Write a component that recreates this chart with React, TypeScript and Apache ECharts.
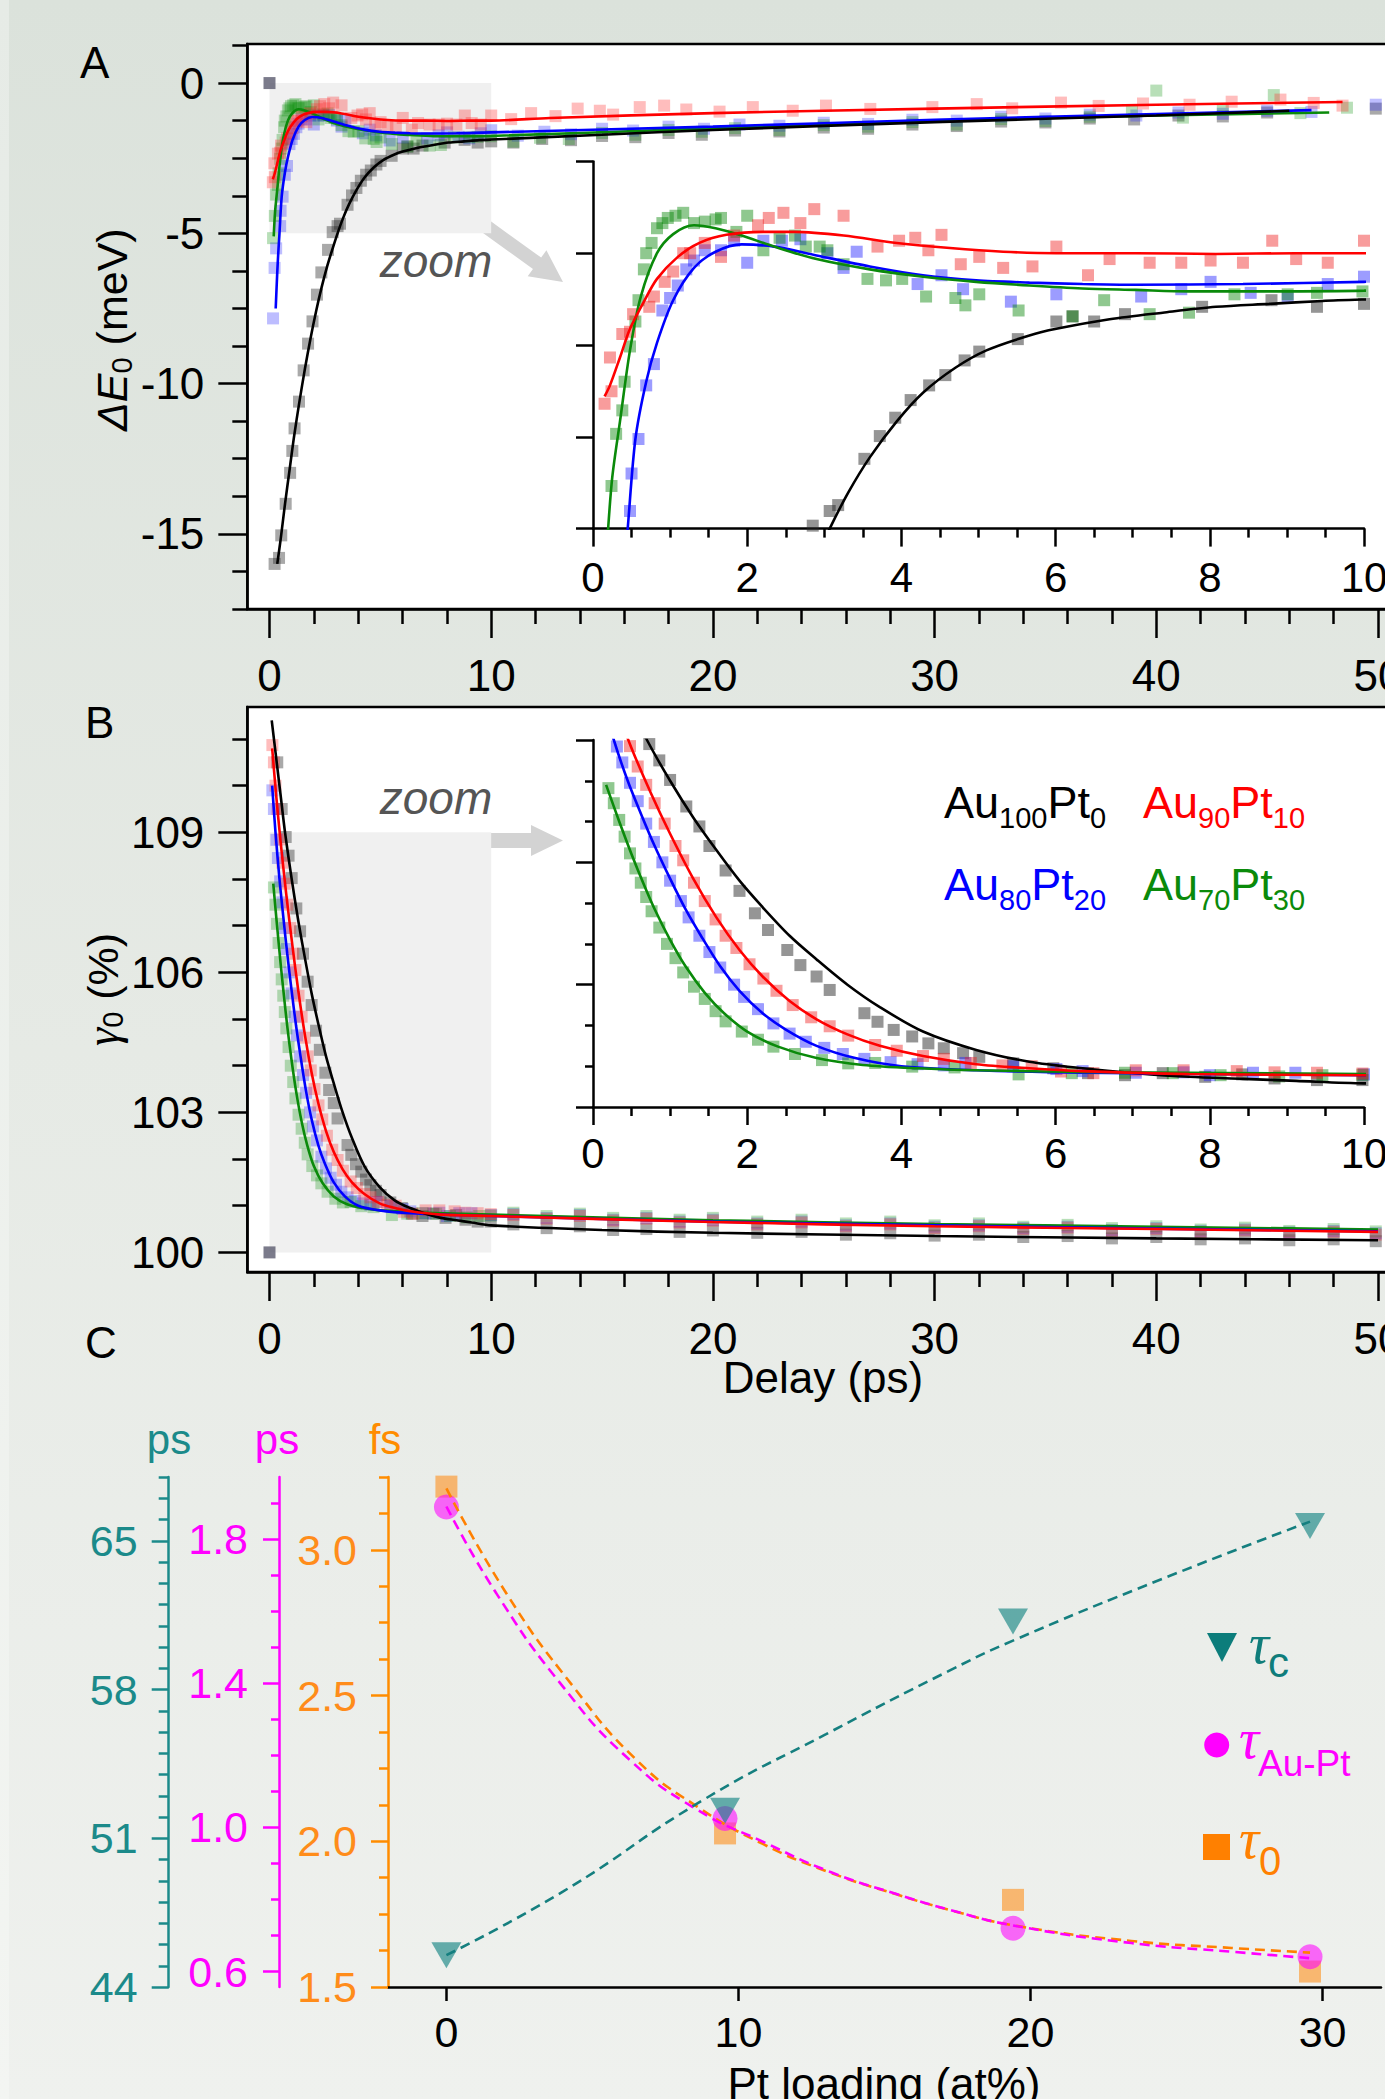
import React, { useEffect, useRef } from 'react';
import * as echarts from 'echarts';

const SANS = 'Liberation Sans';
const SERIF = 'Liberation Serif';

// ---------------- Panel A : ΔE0 (meV) vs delay (ps) ----------------
const A_T0: number[][] = [[0, 0]];
const A_BLACK: number[][] = [[0.23,-16.0],[0.43,-15.8],[0.53,-15.05],[0.73,-14.0],[0.93,-12.97],[1.03,-12.24],[1.13,-11.49],[1.33,-10.6],[1.54,-9.56],[1.74,-8.67],[1.94,-7.93],[2.14,-7.04],[2.34,-6.3],[2.64,-5.55],[2.85,-4.96],[3.07,-4.76],[3.18,-4.68],[3.52,-4.05],[3.72,-3.74],[3.92,-3.49],[4.12,-3.25],[4.36,-3.05],[4.57,-2.91],[4.82,-2.71],[5.01,-2.59],[5.51,-2.42],[6.01,-2.18],[6.22,-2.11],[6.5,-2.18],[6.9,-2.08],[7.9,-1.98],[8.8,-1.89],[9.39,-1.98],[10.0,-1.94],[11.0,-1.98],[12.3,-1.86],[13.6,-1.9],[15.0,-1.76],[16.5,-1.8],[18.0,-1.66],[19.5,-1.72],[21.0,-1.58],[23.0,-1.61],[25.0,-1.48],[27.0,-1.52],[29.0,-1.38],[31.0,-1.43],[33.0,-1.28],[35.0,-1.31],[37.0,-1.18],[39.0,-1.21],[41.0,-1.08],[43.0,-1.11],[45.0,-0.98],[49.9,-0.85]];
const A_BLACK_FIT: number[][] = [[0.35,-16.0],[0.5,-15.2],[0.7,-14.0],[0.9,-12.9],[1.1,-11.8],[1.35,-10.6],[1.6,-9.5],[1.85,-8.5],[2.1,-7.6],[2.35,-6.8],[2.6,-6.1],[2.85,-5.5],[3.07,-5.0],[3.31,-4.51],[3.59,-4.03],[3.94,-3.54],[4.28,-3.15],[4.7,-2.81],[5.11,-2.57],[5.66,-2.37],[6.01,-2.28],[6.7,-2.15],[7.39,-2.06],[8.08,-1.98],[8.77,-1.94],[9.46,-1.9],[10,-1.88],[15,-1.72],[20,-1.56],[30,-1.3],[40,-1.08],[46,-0.92]];
const A_RED: number[][] = [[0.15,-3.3],[0.22,-2.67],[0.24,-3.13],[0.38,-2.35],[0.48,-2.32],[0.52,-2.08],[0.73,-1.98],[0.79,-1.84],[0.93,-1.64],[1.04,-1.5],[1.17,-1.25],[1.26,-1.25],[1.45,-1.11],[1.66,-1.3],[1.83,-1.01],[2.14,-0.87],[2.28,-0.77],[2.47,-0.7],[2.69,-0.84],[2.87,-0.65],[3.25,-0.74],[3.69,-1.16],[3.97,-1.08],[4.18,-1.04],[4.35,-1.21],[4.52,-1.0],[4.77,-1.4],[5.01,-1.3],[5.32,-1.45],[5.7,-1.43],[6.01,-1.16],[6.42,-1.55],[6.7,-1.33],[7.22,-1.38],[7.63,-1.38],[8.01,-1.35],[8.43,-1.38],[8.81,-1.08],[9.12,-1.33],[9.53,-1.38],[10.0,-1.08],[10.9,-1.2],[11.8,-1.0],[12.9,-1.1],[13.9,-0.85],[14.9,-0.92],[15.5,-1.05],[16.7,-0.8],[17.8,-0.75],[18.8,-0.88],[20.3,-0.95],[21.8,-0.8],[23.6,-0.92],[25.1,-0.75],[27.1,-0.86],[29.9,-0.8],[31.9,-0.7],[33.5,-0.84],[35.7,-0.65],[37.4,-0.76],[39.4,-0.68],[41.5,-0.72],[43.4,-0.62],[45.6,-0.55],[47.1,-0.66],[48.4,-0.75]];
const A_RED_FIT: number[][] = [[0.15,-3.2],[0.22,-3.05],[0.35,-2.67],[0.48,-2.28],[0.66,-1.91],[0.83,-1.6],[1.1,-1.3],[1.38,-1.11],[1.73,-1.0],[2.21,-0.96],[2.62,-0.96],[3.25,-1.01],[3.94,-1.11],[4.63,-1.18],[5.32,-1.23],[6.01,-1.25],[7.04,-1.25],[8.08,-1.26],[9.12,-1.25],[10,-1.25],[12.65,-1.16],[20,-1.0],[30,-0.85],[40,-0.72],[48.4,-0.63]];
const A_BLUE: number[][] = [[0.16,-7.83],[0.23,-6.15],[0.3,-5.5],[0.48,-4.76],[0.5,-4.25],[0.59,-3.78],[0.69,-3.05],[0.79,-2.76],[0.9,-2.03],[1.0,-1.86],[1.1,-1.69],[1.21,-1.47],[1.31,-1.35],[1.45,-1.21],[1.66,-1.21],[1.83,-1.08],[2.0,-1.38],[2.21,-1.08],[2.45,-1.08],[2.69,-1.06],[3.04,-1.25],[3.25,-1.45],[3.42,-1.23],[4.21,-1.67],[4.52,-1.55],[4.8,-1.74],[5.42,-1.91],[6.01,-1.81],[7.11,-1.84],[7.63,-1.74],[8.01,-1.64],[8.53,-1.79],[9.01,-1.84],[9.53,-1.67],[10.0,-1.57],[11.2,-1.75],[12.4,-1.62],[13.6,-1.7],[15.0,-1.52],[16.4,-1.58],[18.0,-1.45],[19.6,-1.52],[21.2,-1.38],[23.0,-1.42],[25.0,-1.32],[27.0,-1.36],[29.0,-1.22],[31.0,-1.25],[33.0,-1.12],[35.0,-1.18],[37.0,-1.05],[39.1,-1.08],[41.0,-0.98],[43.0,-1.02],[45.0,-0.92],[47.0,-0.96],[49.9,-0.72]];
const A_BLUE_FIT: number[][] = [[0.28,-7.5],[0.35,-6.3],[0.4,-5.6],[0.45,-5.0],[0.55,-3.78],[0.69,-3.0],[0.83,-2.47],[1.04,-1.89],[1.31,-1.45],[1.59,-1.23],[1.93,-1.13],[2.35,-1.16],[2.9,-1.28],[3.59,-1.43],[4.28,-1.55],[4.97,-1.62],[5.66,-1.65],[6.35,-1.67],[7.04,-1.68],[8.43,-1.67],[10,-1.64],[20,-1.45],[30,-1.22],[40,-1.03],[47,-0.9]];
const A_GREEN: number[][] = [[0.16,-5.16],[0.24,-4.42],[0.3,-3.71],[0.38,-3.39],[0.41,-3.0],[0.48,-2.52],[0.55,-2.18],[0.59,-1.89],[0.66,-1.47],[0.69,-1.25],[0.76,-1.11],[0.83,-0.91],[0.9,-0.84],[0.97,-0.77],[1.07,-0.74],[1.17,-0.7],[1.31,-0.84],[1.45,-0.82],[1.59,-0.79],[1.66,-0.77],[1.86,-0.96],[2.0,-0.74],[2.21,-1.21],[2.42,-1.04],[2.62,-1.01],[2.76,-1.16],[2.94,-1.16],[3.04,-1.21],[3.25,-1.4],[3.56,-1.6],[3.8,-1.62],[4.01,-1.6],[4.32,-1.84],[4.7,-1.86],[4.83,-1.96],[5.01,-1.81],[5.52,-2.03],[6.22,-2.11],[6.63,-1.89],[7.22,-2.08],[7.73,-2.06],[8.32,-1.81],[9.01,-1.81],[9.39,-1.79],[9.98,-1.77],[11.0,-1.95],[12.2,-1.82],[13.5,-1.86],[15.0,-1.66],[16.5,-1.72],[18.0,-1.56],[19.5,-1.62],[21.0,-1.5],[23.0,-1.56],[25.0,-1.4],[27.0,-1.45],[29.0,-1.3],[31.0,-1.38],[33.0,-1.2],[35.0,-1.26],[37.0,-1.12],[38.9,-0.95],[40.0,-0.25],[41.2,-1.15],[43.0,-0.86],[45.3,-0.4],[46.5,-1.0],[48.6,-0.82]];
const A_GREEN_FIT: number[][] = [[0.19,-5.1],[0.25,-4.3],[0.35,-3.54],[0.48,-2.57],[0.62,-1.84],[0.83,-1.25],[1.04,-0.99],[1.31,-0.87],[1.59,-0.91],[1.93,-1.01],[2.35,-1.16],[2.9,-1.33],[3.59,-1.47],[4.28,-1.57],[4.97,-1.64],[5.66,-1.69],[6.35,-1.73],[7.04,-1.75],[7.73,-1.77],[8.43,-1.77],[10,-1.76],[20,-1.5],[30,-1.26],[40,-1.08],[47.8,-0.98]];

// ---------------- Panel B : γ0 (%) vs delay (ps) ----------------
const B_T0: number[][] = [[0, 100]];
const B_BLACK: number[][] = [[0.35,110.5],[0.55,109.5],[0.73,108.9],[0.86,108.5],[1.0,108.02],[1.21,107.37],[1.38,106.88],[1.51,106.4],[1.72,105.8],[1.9,105.3],[2.1,104.75],[2.27,104.34],[2.52,103.85],[2.69,103.48],[2.9,103.2],[3.07,102.87],[3.52,102.3],[3.69,102.09],[3.9,101.89],[4.14,101.73],[4.35,101.56],[4.55,101.44],[4.8,101.32],[5.01,101.23],[5.45,101.07],[5.97,100.95],[6.42,100.83],[6.9,100.78],[7.39,100.83],[7.94,100.74],[8.42,100.8],[8.84,100.7],[9.39,100.66],[9.98,100.66],[11,100.6],[12.5,100.52],[14,100.56],[15.5,100.48],[17,100.5],[18.5,100.44],[20,100.47],[22,100.42],[24,100.44],[26,100.38],[28,100.41],[30,100.36],[32,100.38],[34,100.33],[36,100.35],[38,100.3],[40,100.33],[42,100.28],[44,100.3],[46,100.26],[48,100.28],[49.9,100.24]];
const B_BLACK_FIT: number[][] = [[0.1,111.4],[0.3,110.6],[0.5,109.8],[0.7,109.0],[1.0,108.0],[1.3,107.1],[1.6,106.3],[1.9,105.55],[2.2,104.9],[2.55,104.2],[2.9,103.62],[3.3,103.0],[3.72,102.45],[4.28,101.85],[4.97,101.4],[5.66,101.11],[6.35,100.95],[7.04,100.83],[7.73,100.74],[8.43,100.69],[9.12,100.64],[10,100.58],[15,100.48],[20,100.42],[30,100.35],[40,100.3],[50,100.26]];
const B_RED: number[][] = [[0.13,110.87],[0.2,110.5],[0.27,110.0],[0.36,109.5],[0.48,108.85],[0.58,108.35],[0.69,107.9],[0.8,107.45],[0.93,106.95],[1.07,106.4],[1.17,106.05],[1.31,105.5],[1.45,105.05],[1.59,104.6],[1.72,104.2],[1.86,103.9],[2.03,103.5],[2.21,103.15],[2.38,102.85],[2.59,102.5],[2.83,102.2],[3.07,101.98],[3.31,101.75],[3.66,101.52],[3.94,101.38],[4.28,101.25],[4.55,101.18],[4.9,101.08],[5.31,101.02],[5.69,101.0],[6.07,100.87],[6.49,100.83],[7.04,100.9],[7.66,100.9],[8.35,100.88],[8.84,100.85],[9.39,100.84],[9.98,100.82],[11,100.8],[12.5,100.72],[14,100.78],[15.5,100.68],[17,100.72],[18.5,100.64],[20,100.68],[22,100.6],[24,100.64],[26,100.56],[28,100.6],[30,100.52],[32,100.56],[34,100.5],[36,100.53],[38,100.46],[40,100.5],[42,100.43],[44,100.47],[46,100.4],[48,100.44],[49.9,100.38]];
const B_RED_FIT: number[][] = [[0.12,110.8],[0.3,109.8],[0.5,108.8],[0.75,107.7],[1.0,106.7],[1.3,105.6],[1.6,104.65],[1.9,103.85],[2.2,103.2],[2.55,102.6],[2.9,102.15],[3.3,101.78],[3.72,101.5],[4.28,101.25],[4.97,101.05],[5.66,100.95],[6.35,100.88],[7.73,100.81],[10,100.78],[20,100.65],[30,100.56],[40,100.5],[50,100.44]];
const B_BLUE: number[][] = [[0.13,109.9],[0.2,109.5],[0.31,108.84],[0.38,108.45],[0.48,107.95],[0.58,107.5],[0.69,106.95],[0.79,106.5],[0.9,106.0],[1.0,105.55],[1.14,105.05],[1.24,104.65],[1.38,104.2],[1.51,103.8],[1.65,103.42],[1.83,103.0],[1.96,102.7],[2.14,102.4],[2.34,102.05],[2.55,101.8],[2.76,101.6],[3.0,101.45],[3.24,101.3],[3.52,101.18],[3.86,101.1],[4.21,101.05],[4.55,101.02],[4.83,101.08],[5.45,101.0],[6.01,100.93],[6.35,100.88],[7.04,100.84],[7.66,100.85],[8.0,100.78],[8.56,100.84],[9.11,100.84],[10,100.8],[11,100.82],[12.5,100.74],[14,100.8],[15.5,100.7],[17,100.74],[18.5,100.66],[20,100.7],[22,100.62],[24,100.66],[26,100.58],[28,100.62],[30,100.55],[32,100.58],[34,100.52],[36,100.55],[38,100.48],[40,100.52],[42,100.46],[44,100.49],[46,100.43],[48,100.46],[49.9,100.41]];
const B_BLUE_FIT: number[][] = [[0.12,110.0],[0.27,109.0],[0.45,108.0],[0.62,107.2],[0.8,106.4],[1.0,105.6],[1.2,104.85],[1.4,104.2],[1.65,103.45],[1.9,102.85],[2.2,102.3],[2.5,101.9],[2.9,101.5],[3.4,101.2],[4.0,101.0],[4.97,100.9],[6.35,100.84],[10,100.78],[20,100.66],[30,100.58],[40,100.51],[50,100.45]];
const B_GREEN: number[][] = [[0.2,107.82],[0.27,107.45],[0.34,107.04],[0.41,106.63],[0.48,106.22],[0.55,105.85],[0.62,105.5],[0.69,105.15],[0.76,104.8],[0.86,104.4],[0.96,104.0],[1.07,103.65],[1.17,103.3],[1.31,102.95],[1.45,102.65],[1.59,102.35],[1.72,102.1],[1.93,101.85],[2.14,101.65],[2.34,101.48],[2.62,101.3],[2.97,101.15],[3.31,101.07],[3.66,101.08],[4.14,100.99],[4.69,100.97],[5.52,100.8],[6.21,100.83],[6.9,100.84],[7.52,100.83],[8.14,100.78],[8.9,100.75],[9.46,100.78],[9.98,100.79],[11,100.85],[12.5,100.78],[14,100.83],[15.5,100.74],[17,100.78],[18.5,100.7],[20,100.74],[22,100.66],[24,100.7],[26,100.62],[28,100.66],[30,100.58],[32,100.62],[34,100.55],[36,100.59],[38,100.52],[40,100.56],[42,100.49],[44,100.53],[46,100.46],[48,100.5],[49.9,100.45]];
const B_GREEN_FIT: number[][] = [[0.17,107.9],[0.34,107.0],[0.5,106.2],[0.65,105.5],[0.8,104.85],[1.0,104.1],[1.2,103.45],[1.45,102.8],[1.7,102.3],[2.0,101.85],[2.4,101.48],[2.9,101.2],[3.5,101.03],[4.2,100.95],[5.0,100.9],[6.35,100.86],[10,100.81],[20,100.69],[30,100.61],[40,100.55],[50,100.49]];

// ---------------- Panel C : time constants vs Pt loading ----------------
const C_X: number[] = [0, 9.54, 19.4, 29.57];
const C_TAU_C: number[] = [45.5, 52.3, 61.2, 65.7];          // ps (teal axis)
const C_TAU_AUPT: number[] = [1.89, 1.025, 0.72, 0.641];     // ps (magenta axis)
const C_TAU_0: number[] = [3.217, 2.027, 1.799, 1.553];      // fs (orange axis)
const C_TAU_C_FIT: number[][] = [[0,45.5],[4.0,48.5],[8.79,52.8],[13.0,55.9],[17.24,58.9],[19.4,60.3],[24.5,63.2],[29.57,65.9]];
const C_TAU_AUPT_FIT: number[][] = [[0,1.891],[1.71,1.65],[3.99,1.391],[6.27,1.188],[8.57,1.05],[10.85,0.96],[13.13,0.877],[15.41,0.815],[17.24,0.771],[19.4,0.728],[23.45,0.679],[26.88,0.655],[29.57,0.637]];
const C_TAU_0_FIT: number[][] = [[0,3.211],[2.05,2.851],[4.34,2.531],[6.51,2.279],[8.57,2.12],[10.85,1.99],[13.13,1.893],[15.41,1.818],[17.24,1.764],[19.4,1.712],[23.45,1.658],[26.88,1.634],[29.57,1.618]];

// tick positions
const A_X_MAJOR = [0, 10, 20, 30, 40, 50];
const A_X_MINOR = [2, 4, 6, 8, 12, 14, 16, 18, 22, 24, 26, 28, 32, 34, 36, 38, 42, 44, 46, 48];
const A_Y_MAJOR = [0, -5, -10, -15];
const A_Y_MINOR = [1.25, -1.25, -2.5, -3.75, -6.25, -7.5, -8.75, -11.25, -12.5, -13.75, -16.25, -17.5];
const INSET_X_MAJOR = [0, 2, 4, 6, 8, 10];
const INSET_X_MINOR = [0.5, 1, 1.5, 2.5, 3, 3.5, 4.5, 5, 5.5, 6.5, 7, 7.5, 8.5, 9, 9.5];
const A_INSET_Y = [-5, -3.75, -2.5, -1.25, 0];
const B_Y_MAJOR = [100, 103, 106, 109];
const B_Y_MINOR = [101, 102, 104, 105, 107, 108, 110, 111];
const B_INSET_Y_MINOR = [101, 102, 104, 105, 107, 108];
const C_X_MAJOR = [0, 10, 20, 30];
const C_OR_MAJOR = [1.5, 2.0, 2.5, 3.0];
const C_OR_MINOR = [1.625, 1.75, 1.875, 2.125, 2.25, 2.375, 2.625, 2.75, 2.875, 3.125, 3.25];
const C_MG_MAJOR = [0.6, 1.0, 1.4, 1.8];
const C_MG_MINOR = [0.7, 0.8, 0.9, 1.1, 1.2, 1.3, 1.5, 1.6, 1.7, 1.9];
const C_TL_MAJOR = [44, 51, 58, 65];
const C_TL_MINOR = [45, 46, 47, 48, 49, 50, 52, 53, 54, 55, 56, 57, 59, 60, 61, 62, 63, 64, 66, 67, 68];

const TEAL = '#1b8a8a';
const MAG = '#ff00ff';
const ORG = '#ff8c00';

function makeOption() {
  const ctx = document.createElement('canvas').getContext('2d') as CanvasRenderingContext2D;
  const tw = (t: string, size: number, italic = false, fam = SANS) => {
    ctx.font = `${italic ? 'italic ' : ''}${size}px "${fam}"`;
    return ctx.measureText(t).width;
  };
  const T = (x: number, base: number, text: string, size: number, color: string, o: any = {}) => {
    const fam = o.family || SANS;
    const k = fam === SERIF ? 0.3375 : 0.3465;
    return {
      type: 'text', x, y: base - k * size, silent: true,
      style: { text, fontSize: size, fontFamily: fam, fontStyle: o.italic ? 'italic' : 'normal', fill: color, align: o.align || 'left', verticalAlign: 'middle' },
    };
  };
  const runs = (x0: number, base: number, pieces: any[]) => {
    let x = x0;
    const out: any[] = [];
    for (const p of pieces) {
      out.push(T(x, base + (p.dy || 0), p.t, p.size, p.color, p));
      x += tw(p.t, p.size, !!p.italic, p.family || SANS) + (p.gap || 0);
    }
    return out;
  };
  const arrow = (x1: number, y1: number, x2: number, y2: number, sh: number, hd: number, hl: number, color: string) => {
    const dx = x2 - x1, dy = y2 - y1, L = Math.hypot(dx, dy);
    const ux = dx / L, uy = dy / L, nx = -uy, ny = ux;
    const bx = x2 - ux * hl, by = y2 - uy * hl;
    return {
      type: 'polygon', silent: true,
      shape: { points: [[x1 + nx * sh, y1 + ny * sh], [bx + nx * sh, by + ny * sh], [bx + nx * hd, by + ny * hd], [x2, y2], [bx - nx * hd, by - ny * hd], [bx - nx * sh, by - ny * sh], [x1 - nx * sh, y1 - ny * sh]] },
      style: { fill: color },
    };
  };

  const XMIN = -1, XMAX = 52, X0 = 269.5, XS = 22.17;
  const mainLeft = X0 + XMIN * XS;
  const mainWidth = (XMAX - XMIN) * XS;
  const grid = [
    { left: mainLeft, top: 44, width: mainWidth, height: 565, show: true, backgroundColor: '#ffffff', borderColor: '#000', borderWidth: 2.5 },
    { left: 593, top: 161.4, width: 771, height: 367.2, show: false },
    { left: mainLeft, top: 707, width: mainWidth, height: 565, show: true, backgroundColor: '#ffffff', borderColor: '#000', borderWidth: 2.5 },
    { left: 593, top: 740, width: 771, height: 367, show: false },
    { left: 388, top: 1477, width: 993, height: 510, show: false },
  ].map((g) => ({ ...g, containLabel: false, outerBoundsMode: 'none' }));

  const lbl = (vals: number[], size: number, margin: number, color = '#000', fmt?: (v: number) => string) => ({
    show: true, customValues: vals, fontSize: size, fontFamily: SANS, color, margin, formatter: fmt,
  });
  const noLbl = { show: false };
  const line = (color = '#000', show = true) => ({ show, onZero: false, lineStyle: { color, width: 2.5 } });
  const tick = (vals: number[], length: number, color = '#000') => ({ show: true, customValues: vals, length, inside: false, lineStyle: { color, width: 2.5 } });
  const xa = (gi: number, min: number, max: number, t: any, l: any, showLine = true) => ({
    type: 'value', gridIndex: gi, min, max, position: 'bottom', axisLine: line('#000', showLine), axisTick: t, axisLabel: l, splitLine: { show: false },
  });
  const ya = (gi: number, min: number, max: number, t: any, l: any, showLine = true, color = '#000', offset = 0) => ({
    type: 'value', gridIndex: gi, min, max, position: 'left', offset, axisLine: line(color, showLine), axisTick: t, axisLabel: l, splitLine: { show: false },
  });

  const xAxis = [
    xa(0, XMIN, XMAX, tick(A_X_MAJOR, 29), lbl(A_X_MAJOR, 44, 44)),
    xa(0, XMIN, XMAX, tick(A_X_MINOR, 15), noLbl, false),
    xa(1, 0, 10, tick(INSET_X_MAJOR, 18), lbl(INSET_X_MAJOR, 42, 28)),
    xa(1, 0, 10, tick(INSET_X_MINOR, 9), noLbl, false),
    xa(2, XMIN, XMAX, tick(A_X_MAJOR, 29), lbl(A_X_MAJOR, 44, 44)),
    xa(2, XMIN, XMAX, tick(A_X_MINOR, 15), noLbl, false),
    xa(3, 0, 10, tick(INSET_X_MAJOR, 18), lbl(INSET_X_MAJOR, 42, 25)),
    xa(3, 0, 10, tick(INSET_X_MINOR, 9), noLbl, false),
    xa(4, -2, 32, tick(C_X_MAJOR, 14), lbl(C_X_MAJOR, 43, 23)),
  ];
  const f1 = (v: number) => v.toFixed(1);
  const yAxis = [
    ya(0, -17.5, 1.3, tick(A_Y_MAJOR, 29), lbl(A_Y_MAJOR, 44, 43)),
    ya(0, -17.5, 1.3, tick(A_Y_MINOR, 15), noLbl, false),
    ya(1, -5, 0, tick(A_INSET_Y, 17), noLbl),
    ya(2, 99.58, 111.686, tick(B_Y_MAJOR, 29), lbl(B_Y_MAJOR, 44, 43)),
    ya(2, 99.58, 111.686, tick(B_Y_MINOR, 15), noLbl, false),
    ya(3, 100, 109, tick(B_Y_MAJOR, 17), noLbl),
    ya(3, 100, 109, tick(B_INSET_Y_MINOR, 8), noLbl, false),
    ya(4, 1.5, 3.25, tick(C_OR_MAJOR, 17, ORG), lbl(C_OR_MAJOR, 43, 31, '#ff8c1a', f1), true, ORG, 0),
    ya(4, 1.5, 3.25, tick(C_OR_MINOR, 9, ORG), noLbl, false, ORG, 0),
    ya(4, 0.557, 1.973, tick(C_MG_MAJOR, 16, MAG), lbl(C_MG_MAJOR, 43, 31, MAG, f1), true, MAG, 109),
    ya(4, 0.557, 1.973, tick(C_MG_MINOR, 8, MAG), noLbl, false, MAG, 109),
    ya(4, 44, 68, tick(C_TL_MAJOR, 17, TEAL), lbl(C_TL_MAJOR, 43, 31, TEAL), true, TEAL, 219.3),
    ya(4, 44, 68, tick(C_TL_MINOR, 10, TEAL), noLbl, false, TEAL, 219.3),
  ];

  const sq = (data: number[][], xi: number, yi: number, color: string, size = 12) => ({
    type: 'scatter', xAxisIndex: xi, yAxisIndex: yi, data, symbol: 'rect', symbolSize: size, itemStyle: { color }, silent: true, z: 3, clip: true,
  });
  const fit = (data: number[][], xi: number, yi: number, color: string, width = 2.6, dashed = false, smooth = 0.3) => ({
    type: 'line', xAxisIndex: xi, yAxisIndex: yi, data, symbol: 'none', showSymbol: false, smooth,
    lineStyle: { color, width, type: dashed ? [10, 6] : 'solid' }, silent: true, z: 4, clip: true,
  });
  const zoomRect = (xi: number, yi: number, box: number[]) => ({
    type: 'custom', xAxisIndex: xi, yAxisIndex: yi, z: 1, silent: true, data: [box], encode: { x: [0, 2], y: [1, 3] },
    renderItem: (_p: any, api: any) => {
      const a = api.coord([api.value(0), api.value(3)]);
      const b = api.coord([api.value(2), api.value(1)]);
      return { type: 'rect', shape: { x: a[0], y: a[1], width: b[0] - a[0], height: b[1] - a[1] }, style: { fill: '#f0f0f0' } };
    },
  });

  const mainAlpha = { k: 'rgba(40,40,40,0.5)', r: 'rgba(255,40,40,0.38)', b: 'rgba(40,40,255,0.38)', g: 'rgba(0,140,0,0.35)' };
  const insAlpha = { k: 'rgba(40,40,40,0.62)', r: 'rgba(240,30,30,0.55)', b: 'rgba(30,30,255,0.55)', g: 'rgba(0,130,0,0.55)' };
  const RED = '#ff0000', BLUE = '#0000ff', GREEN = '#0a8a0a', BLACK = '#000000';

  const panel = (xm: number, ym: number, xi: number, yi: number, d: any, box: number[], t0: number[][]) => [
    zoomRect(xm, ym, box),
    sq(d.k, xm, ym, mainAlpha.k), sq(d.b, xm, ym, mainAlpha.b), sq(d.g, xm, ym, mainAlpha.g), sq(d.r, xm, ym, mainAlpha.r),
    sq(t0, xm, ym, '#5a5a6e'),
    fit(d.gf, xm, ym, GREEN), fit(d.bf, xm, ym, BLUE), fit(d.kf, xm, ym, BLACK), fit(d.rf, xm, ym, RED),
    sq(d.k, xi, yi, insAlpha.k), sq(d.b, xi, yi, insAlpha.b), sq(d.g, xi, yi, insAlpha.g), sq(d.r, xi, yi, insAlpha.r),
    fit(d.kf, xi, yi, BLACK), fit(d.bf, xi, yi, BLUE), fit(d.gf, xi, yi, GREEN), fit(d.rf, xi, yi, RED),
  ];

  const zip = (ys: number[]) => C_X.map((x, i) => [x, ys[i]]);
  const series: any[] = [
    ...panel(0, 0, 2, 2, { k: A_BLACK, r: A_RED, b: A_BLUE, g: A_GREEN, kf: A_BLACK_FIT, rf: A_RED_FIT, bf: A_BLUE_FIT, gf: A_GREEN_FIT }, [0, -5, 10, 0], A_T0),
    ...panel(4, 3, 6, 5, { k: B_BLACK, r: B_RED, b: B_BLUE, g: B_GREEN, kf: B_BLACK_FIT, rf: B_RED_FIT, bf: B_BLUE_FIT, gf: B_GREEN_FIT }, [0, 100, 10, 109], B_T0),
    { type: 'scatter', xAxisIndex: 8, yAxisIndex: 7, data: zip(C_TAU_0), symbol: 'rect', symbolSize: 22, itemStyle: { color: 'rgba(255,140,20,0.72)' }, silent: true, z: 3 },
    { type: 'scatter', xAxisIndex: 8, yAxisIndex: 9, data: zip(C_TAU_AUPT), symbol: 'circle', symbolSize: 25, itemStyle: { color: 'rgba(255,0,255,0.72)' }, silent: true, z: 3 },
    { type: 'scatter', xAxisIndex: 8, yAxisIndex: 11, data: zip(C_TAU_C), symbol: 'triangle', symbolRotate: 180, symbolSize: [30, 26], itemStyle: { color: 'rgba(15,130,128,0.78)' }, silent: true, z: 3 },
    fit(C_TAU_0_FIT, 8, 7, '#ff8000', 2.6, true, 0.5),
    fit(C_TAU_AUPT_FIT, 8, 9, '#ff00ff', 2.6, true, 0.5),
    fit(C_TAU_C_FIT, 8, 11, '#157f7f', 2.6, true, 0.5),
  ];

  const graphics: any[] = [
    // light strip at the left edge
    { type: 'rect', silent: true, z: -5, shape: { x: 0, y: 0, width: 9, height: 2099 }, style: { fill: new echarts.graphic.LinearGradient(0, 0, 0, 1, [{ offset: 0, color: '#e6ebe6' }, { offset: 1, color: '#f3f5f2' }]) } },
    // panel letters
    T(80, 78, 'A', 44, '#000'),
    T(85, 738, 'B', 44, '#000'),
    T(85, 1358, 'C', 44, '#000'),
    // zoom annotations
    T(436, 277, 'zoom', 46, '#555555', { italic: true, align: 'center' }),
    T(436, 814, 'zoom', 46, '#555555', { italic: true, align: 'center' }),
    arrow(484, 225, 563, 282, 7, 16, 32, '#d3d3d3'),
    arrow(490, 840.5, 563, 840.5, 7.6, 15.5, 32, '#d3d3d3'),
    // y titles (rotated)
    {
      type: 'group', x: 127, y: 431, rotation: Math.PI / 2, silent: true,
      children: runs(0, 0, [
        { t: 'Δ', size: 43, italic: true, color: '#000' },
        { t: 'E', size: 43, italic: true, color: '#000' },
        { t: '0', size: 29, dy: 5, color: '#000' },
        { t: ' (meV)', size: 43, color: '#000' },
      ]),
    },
    {
      type: 'group', x: 118, y: 1046, rotation: Math.PI / 2, silent: true,
      children: runs(0, 0, [
        { t: 'γ', size: 46, italic: true, family: SERIF, color: '#000' },
        { t: '0', size: 29, dy: 5, color: '#000' },
        { t: ' (%)', size: 43, color: '#000' },
      ]),
    },
    T(823, 1393, 'Delay (ps)', 44, '#000', { align: 'center' }),
    T(884, 2099, 'Pt loading (at%)', 44, '#000', { align: 'center' }),
    // panel C unit labels
    T(169, 1454, 'ps', 42, TEAL, { align: 'center' }),
    T(277, 1454, 'ps', 42, MAG, { align: 'center' }),
    T(385, 1454, 'fs', 42, ORG, { align: 'center' }),
    // panel B legend
    ...runs(944, 818, [
      { t: 'Au', size: 45, color: '#000' }, { t: '100', size: 29, dy: 10, color: '#000' },
      { t: 'Pt', size: 45, color: '#000' }, { t: '0', size: 29, dy: 10, color: '#000' },
    ]),
    ...runs(1143, 818, [
      { t: 'Au', size: 45, color: RED }, { t: '90', size: 29, dy: 10, color: RED },
      { t: 'Pt', size: 45, color: RED }, { t: '10', size: 29, dy: 10, color: RED },
    ]),
    ...runs(944, 900, [
      { t: 'Au', size: 45, color: BLUE }, { t: '80', size: 29, dy: 10, color: BLUE },
      { t: 'Pt', size: 45, color: BLUE }, { t: '20', size: 29, dy: 10, color: BLUE },
    ]),
    ...runs(1143, 900, [
      { t: 'Au', size: 45, color: '#0a8a0a' }, { t: '70', size: 29, dy: 10, color: '#0a8a0a' },
      { t: 'Pt', size: 45, color: '#0a8a0a' }, { t: '30', size: 29, dy: 10, color: '#0a8a0a' },
    ]),
    // panel C legend
    { type: 'polygon', silent: true, shape: { points: [[1207, 1633], [1237, 1633], [1222, 1662]] }, style: { fill: '#0c7d7b' } },
    T(1249, 1663, 'τ', 56, '#0f7d7b', { italic: true, family: SERIF }),
    T(1268, 1677, 'c', 42, '#0f7d7b'),
    { type: 'circle', silent: true, shape: { cx: 1216.7, cy: 1745, r: 12.5 }, style: { fill: '#ff00ff' } },
    T(1239, 1758, 'τ', 56, MAG, { italic: true, family: SERIF }),
    T(1258, 1776, 'Au-Pt', 37, MAG),
    { type: 'rect', silent: true, shape: { x: 1203, y: 1834, width: 27, height: 26 }, style: { fill: '#ff8000' } },
    T(1239, 1858, 'τ', 56, '#ff8000', { italic: true, family: SERIF }),
    T(1259, 1875, '0', 40, '#ff8000'),
  ];

  return {
    animation: false,
    backgroundColor: new echarts.graphic.LinearGradient(0, 0, 0, 1, [
      { offset: 0, color: '#dbe2db' },
      { offset: 0.5, color: '#e6eae5' },
      { offset: 1, color: '#eff1ee' },
    ]),
    grid,
    xAxis,
    yAxis,
    series,
    graphic: { elements: graphics },
  };
}

export default function App() {
  const ref = useRef<HTMLDivElement>(null);
  useEffect(() => {
    document.body.style.margin = '0';
    const chart = echarts.init(ref.current as HTMLDivElement, null, { renderer: 'svg' });
    chart.setOption(makeOption() as any);
    return () => chart.dispose();
  }, []);
  return <div ref={ref} style={{ width: 1385, height: 2099 }} />;
}
